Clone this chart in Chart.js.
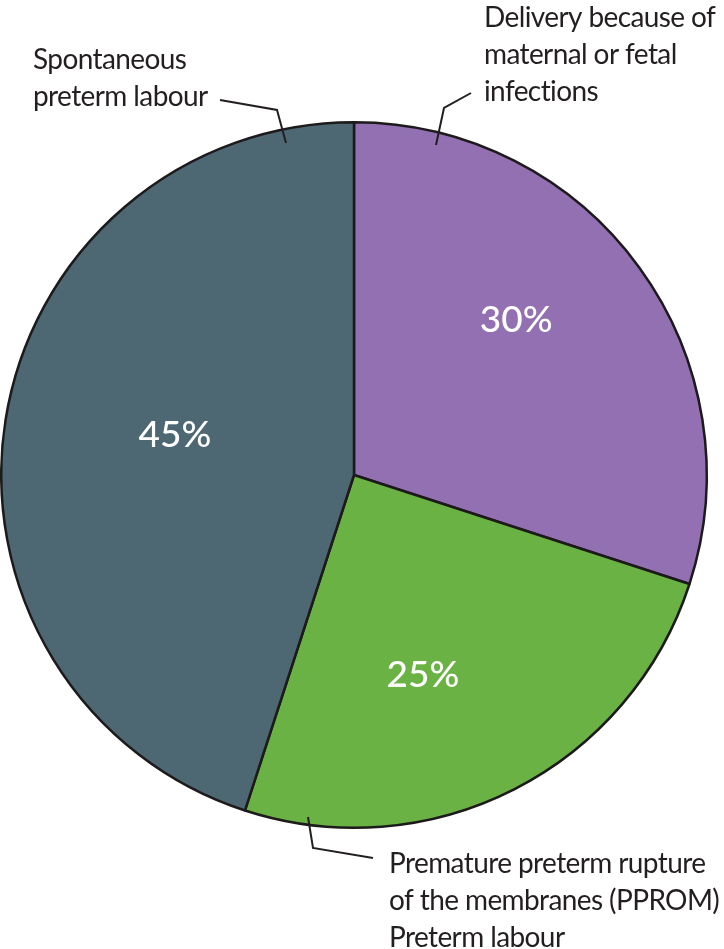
<!DOCTYPE html>
<html>
<head>
<meta charset="utf-8">
<script src="https://cdn.jsdelivr.net/npm/chart.js@4"></script>
<style>
  html, body { margin: 0; padding: 0; background: #fff; }
  #wrap { width: 724px; height: 949px; }
</style>
</head>
<body>
<div id="wrap"><canvas id="pie" width="724" height="949"></canvas></div>
<script>
// data
const categories = [
    'Delivery because of maternal or fetal infections',
    'Premature preterm rupture of the membranes (PPROM) Preterm labour',
    'Spontaneous preterm labour'
];
const shares = [30, 25, 45];
const sliceColors = ['#9270b1', '#6bb244', '#4d6773'];

// percent label placement inside each slice (fraction of radius, angle shift in degrees)
const pctPlace = [
    { r: 0.635, da: -7.6 },
    { r: 0.60, da: 8 },
    { r: 0.52, da: 3.6 }
];

// outside labels with leader lines
const callouts = [
    { lines: ['Spontaneous', 'preterm labour'], x: 33, y: 69, path: [[220, 100], [277, 110], [286, 143]] },
    { lines: ['Delivery because of', 'maternal or fetal', 'infections'], x: 484, y: 27, path: [[471, 93], [444, 108], [436, 145]] },
    { lines: ['Premature preterm rupture', 'of the membranes (PPROM)', 'Preterm labour'], x: 389, y: 873, path: [[308, 817], [313, 848], [373, 858]] }
];

const labelPlugin = {
    id: 'labelPlugin',
    afterDraw(chart) {
        const ctx = chart.ctx;
        const meta = chart.getDatasetMeta(0);
        ctx.save();

        // percentages
        ctx.fillStyle = '#ffffff';
        ctx.font = '500 37px Lato';
        ctx.textAlign = 'center';
        ctx.textBaseline = 'middle';
        meta.data.forEach((arc, i) => {
            const p = arc.getProps(['x', 'y', 'startAngle', 'endAngle', 'outerRadius'], true);
            const mid = (p.startAngle + p.endAngle) / 2 + pctPlace[i].da * Math.PI / 180;
            const rr = p.outerRadius * pctPlace[i].r;
            ctx.fillText(shares[i] + '%', p.x + Math.cos(mid) * rr, p.y + Math.sin(mid) * rr);
        });

        // callouts
        ctx.fillStyle = '#231f20';
        ctx.strokeStyle = '#231f20';
        ctx.lineWidth = 2;
        ctx.font = '28px Lato';
        ctx.letterSpacing = '-0.6px';
        ctx.textAlign = 'left';
        ctx.textBaseline = 'alphabetic';
        callouts.forEach(c => {
            c.lines.forEach((t, k) => ctx.fillText(t, c.x, c.y + k * 37));
            ctx.beginPath();
            ctx.moveTo(c.path[0][0], c.path[0][1]);
            for (let k = 1; k < c.path.length; k++) {
                ctx.lineTo(c.path[k][0], c.path[k][1]);
            }
            ctx.stroke();
        });
        ctx.restore();
    }
};

new Chart(document.getElementById('pie'), {
    type: 'pie',
    data: {
        labels: categories,
        datasets: [{
            data: shares,
            backgroundColor: sliceColors,
            borderColor: '#1c1a1b',
            borderWidth: 2.5
        }]
    },
    options: {
        responsive: false,
        animation: false,
        layout: { padding: { left: 0, right: 16, top: 120, bottom: 119 } },
        plugins: {
            legend: { display: false },
            tooltip: { enabled: false }
        }
    },
    plugins: [labelPlugin]
});
</script>
</body>
</html>
